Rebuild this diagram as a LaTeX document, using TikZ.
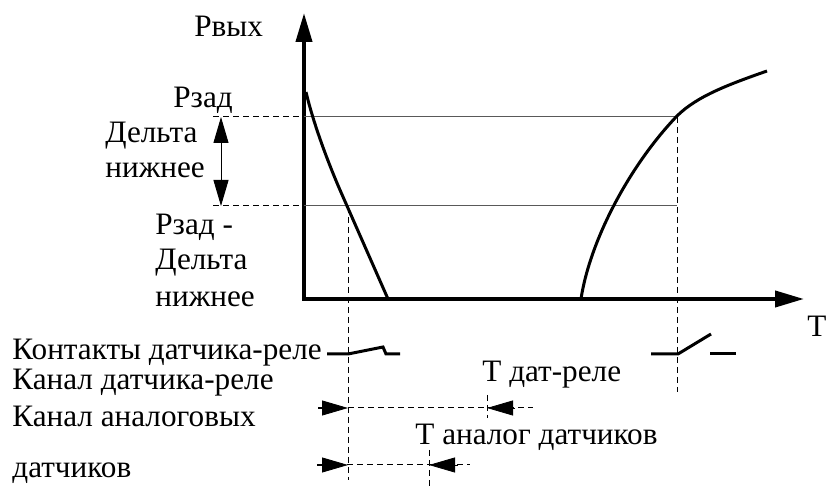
\documentclass[tikz,border=0pt]{standalone}
\usepackage{fontspec}
\setmainfont{Liberation Serif}
\usetikzlibrary{arrows.meta}

\tikzset{
	lbl/.style={inner sep=0pt, anchor=base west, font=\fontsize{15.6}{18}\selectfont},
	axis/.style={line width=2pt, {Triangle[length=14.5pt,width=8pt]}-{Triangle[length=14.5pt,width=8pt]}},
	curve/.style={line width=1.5pt},
	level/.style={line width=0.5pt, black!65},
	guide/.style={line width=0.5pt, dash pattern=on 3pt off 2pt},
	tip/.style={-{Triangle[length=13pt,width=7.5pt]}},
}

\begin{document}
\begin{tikzpicture}[x=0.5pt,y=-0.5pt]
	\useasboundingbox (0,0) rectangle (826,491);
	% axes
	\coordinate (O) at (304,299);
	\coordinate (Ytop) at (304,13);
	\coordinate (Xend) at (804,299);
	\draw [axis] (Ytop) -- (O) -- (Xend);
	\node [lbl] (Pout) at (194,37) {Рвых};
	\node [lbl] (T) at (807,337) {Т};
	% levels
	\coordinate (Hl) at (213,117);
	\coordinate (Ha) at (304,117);
	\coordinate (Hr) at (677,117);
	\coordinate (Ll) at (213,206);
	\coordinate (La) at (304,206);
	\coordinate (Lr) at (677,206);
	\draw [level] (Ha) -- (Hr);
	\draw [level] (La) -- (Lr);
	\draw [guide] (Hl) -- (Ha);
	\draw [guide] (Ll) -- (La);
	\coordinate (Da) at (221,117);
	\coordinate (Db) at (221,206);
	\draw [line width=0.5pt, {Triangle[length=13pt,width=7.5pt]}-{Triangle[length=13pt,width=7.5pt]}] (Da) -- (Db);
	\node [lbl] (Pset) at (173,108) {Рзад};
	\node [lbl] (D1) at (105,143) {Дельта};
	\node [lbl] (D2) at (105,178) {нижнее};
	\node [lbl] (M1) at (155,235) {Рзад -};
	\node [lbl] (M2) at (155,270) {Дельта};
	\node [lbl] (M3) at (155,307) {нижнее};
	% curves
	\draw [curve] (306,92) .. controls (313,122) and (327,160) .. (340,190) -- (388,299);
	\draw [curve] (581,299) .. controls (590,240) and (630,165) .. (677,116)
		.. controls (697,96) and (730,84) .. (767,71);
	% switch moments
	\coordinate (A) at (348,207);
	\coordinate (Ab) at (348,480);
	\coordinate (B) at (677,117);
	\coordinate (Bb) at (677,392);
	\draw [guide] (A) -- (Ab);
	\draw [guide] (B) -- (Bb);
	% contacts
	\node [lbl] (K) at (12,360) {Контакты датчика-реле};
	\draw [curve] (327,354) -- (348,354) -- (383,347) -- (386,354) -- (400,354);
	\draw [curve] (651,354) -- (678,354) -- (711,334);
	\draw [curve] (710,354) -- (736,354);
	% relay channel
	\node [lbl] (C1) at (12,390) {Канал датчика-реле};
	\node [lbl] (T1) at (482,382) {Т дат-реле};
	\coordinate (R0) at (318,408);
	\coordinate (R1) at (348,408);
	\coordinate (R2) at (487,408);
	\coordinate (R3) at (533,408);
	\draw [guide] (R0) -- (R3);
	\draw [guide] (487,395) -- (487,418);
	\draw [tip] (R0) -- (R1);
	\draw [tip] (515,408) -- (R2);
	% analog channel
	\node [lbl] (C2) at (12,427) {Канал аналоговых};
	\node [lbl] (C3) at (12,478) {датчиков};
	\node [lbl] (T2) at (415,445) {Т аналог датчиков};
	\coordinate (S0) at (317,465);
	\coordinate (S1) at (348,465);
	\coordinate (S2) at (429,465);
	\coordinate (S3) at (470,465);
	\draw [guide] (S0) -- (S3);
	\draw [guide] (429,450) -- (429,487);
	\draw [tip] (S0) -- (S1);
	\draw [tip] (458,465) -- (S2);
\end{tikzpicture}
\end{document}
